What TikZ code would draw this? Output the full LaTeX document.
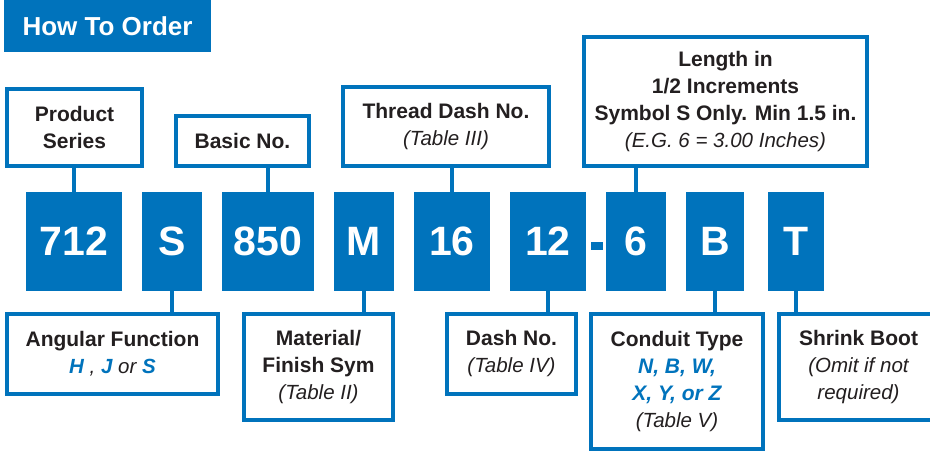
\documentclass[tikz,border=0pt]{standalone}
\usepackage{fontspec}
\setmainfont{Liberation Sans}
\definecolor{hblue}{RGB}{0,115,188}
\definecolor{htext}{RGB}{35,31,32}
\tikzset{
  x=1pt, y=-1pt,
  lbl/.style={draw=hblue, line width=4pt, fill=white, inner sep=0pt, align=center,
    text=htext, font=\fontsize{21}{27}\selectfont\bfseries},
  code/.style={fill=hblue, inner sep=0pt, text=white, minimum height=99pt,
    font=\fontsize{41}{41}\selectfont\bfseries},
  conn/.style={draw=hblue, line width=4.5pt},
}
\newcommand{\tbl}[1]{{\fontsize{20.5}{27}\selectfont\mdseries\itshape #1}}
\newcommand{\hb}[1]{{\color{hblue}\bfseries\itshape #1}}
\begin{document}
\begin{tikzpicture}
\useasboundingbox (0,0) rectangle (930,452);
\clip (0,0) rectangle (930,452);
% title
\node[fill=hblue, inner sep=0pt, minimum width=207pt, minimum height=52pt,
  text=white, font=\fontsize{26}{26}\selectfont\bfseries] (title) at (107.5,26) {How To Order};
% code boxes
\node[code, minimum width=96pt] (c712) at (74,241.5) {712};
\node[code, minimum width=60pt] (cS) at (172,241.5) {S};
\node[code, minimum width=92pt] (c850) at (268,241.5) {850};
\node[code, minimum width=60pt] (cM) at (364,241.5) {M};
\node[code, minimum width=76pt] (c16) at (452,241.5) {16};
\node[code, minimum width=76pt] (c12) at (548,241.5) {12};
\node[fill=hblue, inner sep=0pt, minimum width=12pt, minimum height=8pt] (dash) at (597,246) {};
\node[code, minimum width=60pt] (c6) at (636,241.5) {6};
\node[code, minimum width=58pt] (cB) at (715,241.5) {B};
\node[code, minimum width=56pt] (cT) at (796,241.5) {T};
% upper labels
\node[lbl, minimum width=135pt, minimum height=77pt] (ps) at (74.5,127.5) {Product\\Series};
\node[lbl, minimum width=133pt, minimum height=50pt] (basic) at (242.5,141) {Basic No.};
\node[lbl, minimum width=206pt, minimum height=79pt] (thread) at (446,126.5) {Thread Dash No.\\\tbl{(Table III)}};
\node[lbl, minimum width=283pt, minimum height=129pt] (len) at (725.5,101.5)
  {Length in\\1/2 Increments\\Symbol S Only. Min 1.5 in.\\\tbl{(E.G. 6 = 3.00 Inches)}};
% lower labels
\node[lbl, minimum width=211pt, minimum height=80pt] (ang) at (112.5,354)
  {Angular Function\\{\fontsize{20.5}{27}\selectfont\hb{H}\mdseries\itshape\ ,\ \hb{J}\mdseries\itshape\ or \hb{S}}};
\node[lbl, minimum width=149pt, minimum height=106pt] (mat) at (318.5,367) {Material/\\Finish Sym\\\tbl{(Table II)}};
\node[lbl, minimum width=129pt, minimum height=80pt] (dno) at (511.5,354) {Dash No.\\\tbl{(Table IV)}};
\node[lbl, minimum width=172pt, minimum height=135pt] (cond) at (677,381.5)
  {Conduit Type\\\hb{N, B, W,}\\\hb{X, Y, or Z}\\\tbl{(Table V)}};
\node[lbl, minimum width=159pt, minimum height=106pt] (shr) at (858.5,367)
  {Shrink Boot\\\tbl{(Omit if not}\\\tbl{required)}};
% connectors
\draw[conn] (c712.north) -- (c712.north |- ps.south);
\draw[conn] (c850.north) -- (c850.north |- basic.south);
\draw[conn] (c16.north) -- (c16.north |- thread.south);
\draw[conn] (c6.north) -- (c6.north |- len.south);
\draw[conn] (cS.south) -- (cS.south |- ang.north);
\draw[conn] (cM.south) -- (cM.south |- mat.north);
\draw[conn] (c12.south) -- (c12.south |- dno.north);
\draw[conn] (cB.south) -- (cB.south |- cond.north);
\draw[conn] (cT.south) -- (cT.south |- shr.north);
\end{tikzpicture}
\end{document}
